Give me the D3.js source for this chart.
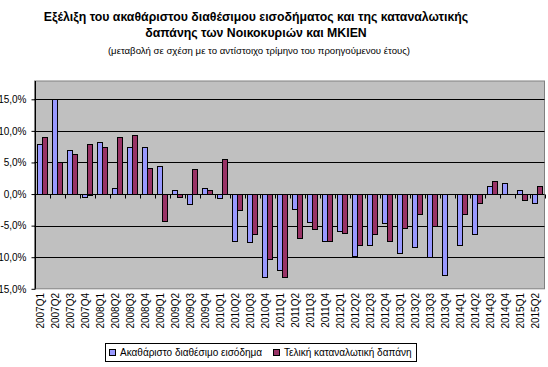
<!DOCTYPE html>
<html>
<head>
<meta charset="utf-8">
<script src="https://cdn.jsdelivr.net/npm/d3@7"></script>
<style>
  body { margin: 0; background: #fff; }
  svg { display: block; font-family: Arial, "Liberation Sans", sans-serif; }
</style>
</head>
<body>
<div id="chart"></div>
<script>
// Quarters on the x axis
const quarters = ["2007Q1","2007Q2","2007Q3","2007Q4","2008Q1","2008Q2","2008Q3","2008Q4",
                  "2009Q1","2009Q2","2009Q3","2009Q4","2010Q1","2010Q2","2010Q3","2010Q4",
                  "2011Q1","2011Q2","2011Q3","2011Q4","2012Q1","2012Q2","2012Q3","2012Q4",
                  "2013Q1","2013Q2","2013Q3","2013Q4","2014Q1","2014Q2","2014Q3","2014Q4",
                  "2015Q1","2015Q2"];

// Gross disposable income (% change y/y)
const income = [7.9, 15.1, 7.0, -0.5, 8.2, 0.9, 7.5, 7.5,
                4.4, 0.6, -1.6, 0.9, -0.7, -7.4, -7.6, -13.2,
                -12.1, -2.4, -4.4, -7.5, -5.9, -9.8, -8.0, -4.6,
                -9.4, -8.4, -10.0, -12.9, -8.0, -6.3, 1.3, 1.8,
                0.7, -1.5];

// Final consumption expenditure (% change y/y)
const consumption = [9.0, 5.0, 6.4, 8.0, 7.5, 9.0, 9.4, 4.1,
                     -4.2, -0.5, 3.9, 0.7, 5.6, -2.6, -6.3, -10.3,
                     -13.2, -6.9, -5.6, -7.5, -6.1, -8.1, -6.3, -7.5,
                     -5.4, -3.1, -5.1, 0.0, -3.2, -1.5, 2.0, 0.0,
                     -1.0, 1.3];

const seriesNames = ["Ακαθάριστο διαθέσιμο εισόδημα", "Τελική καταναλωτική δαπάνη"];
const yTicks = [-15, -10, -5, 0, 5, 10, 15];

const svgWidth = 548;
const svgHeight = 367;

// plot area
const plot = { left: 34.5, right: 544.5, top: 81, bottom: 288.8 };
const colors = ["#9999FF", "#993366"];

const svg = d3.select("#chart")
              .append("svg")
              .attr("width", svgWidth)
              .attr("height", svgHeight);

// Titles
svg.append("text")
   .attr("x", 256).attr("y", 21)
   .attr("text-anchor", "middle")
   .style("font-size", "12.3px").style("font-weight", "bold")
   .text("Εξέλιξη του ακαθάριστου διαθέσιμου εισοδήματος και της καταναλωτικής");
svg.append("text")
   .attr("x", 256).attr("y", 37)
   .attr("text-anchor", "middle")
   .style("font-size", "12.3px").style("font-weight", "bold")
   .text("δαπάνης των Νοικοκυριών και ΜΚΙΕΝ");
svg.append("text")
   .attr("x", 259).attr("y", 54)
   .attr("text-anchor", "middle")
   .style("font-size", "9.6px")
   .text("(μεταβολή σε σχέση με το αντίστοιχο τρίμηνο του προηγούμενου έτους)");

// Scales
const x = d3.scaleBand()
            .domain(quarters)
            .range([plot.left, plot.right])
            .paddingInner(1 / 3)
            .paddingOuter(1 / 6);

const xSub = d3.scaleBand()
               .domain([0, 1])
               .range([0, x.bandwidth()]);

const y = d3.scaleLinear()
            .domain([-15, 15])
            .range([plot.bottom, 99.3]);

// Plot background
svg.append("rect")
   .attr("x", plot.left).attr("y", plot.top)
   .attr("width", plot.right - plot.left)
   .attr("height", plot.bottom - plot.top)
   .attr("fill", "#C0C0C0")
   .attr("stroke", "#808080")
   .attr("stroke-width", 1);

// Gridlines
svg.append("g")
   .selectAll("line")
   .data(yTicks.filter(d => d !== -15 && d !== 0))
   .enter()
   .append("line")
   .attr("x1", plot.left).attr("x2", plot.right)
   .attr("y1", d => Math.round(y(d)) + 0.5)
   .attr("y2", d => Math.round(y(d)) + 0.5)
   .attr("stroke", "#000");

// Bars
const data = quarters.map((q, i) => ({ q: q, values: [income[i], consumption[i]] }));

svg.append("g")
   .selectAll("g")
   .data(data)
   .enter()
   .append("g")
   .attr("transform", d => `translate(${x(d.q)},0)`)
   .selectAll("rect")
   .data(d => d.values.map((v, k) => ({ k: k, v: v })))
   .enter()
   .filter(d => d.v !== 0)
   .append("rect")
   .attr("x", d => Math.round(xSub(d.k)) + 0.5)
   .attr("y", d => Math.round(y(Math.max(0, d.v))) + 0.5)
   .attr("width", Math.round(xSub.bandwidth()))
   .attr("height", d => Math.max(1, Math.round(Math.abs(y(d.v) - y(0)))))
   .attr("fill", d => colors[d.k])
   .attr("stroke", "#000")
   .attr("stroke-width", 1);

// Zero line with category ticks
const y0 = Math.round(y(0)) + 0.5;
svg.append("line")
   .attr("x1", plot.left).attr("x2", plot.right)
   .attr("y1", y0).attr("y2", y0)
   .attr("stroke", "#000");

svg.append("g")
   .selectAll("line")
   .data(quarters.concat(["end"]))
   .enter()
   .append("line")
   .attr("x1", (d, i) => Math.round(plot.left + i * x.step()) + 0.5)
   .attr("x2", (d, i) => Math.round(plot.left + i * x.step()) + 0.5)
   .attr("y1", y0).attr("y2", y0 + 4)
   .attr("stroke", "#000");

// Y axis
const yAxis = svg.append("g")
                 .attr("transform", `translate(${Math.round(plot.left) + 0.5},0)`)
                 .call(d3.axisLeft(y)
                         .tickValues(yTicks)
                         .tickSizeInner(4)
                         .tickSizeOuter(0)
                         .tickPadding(5)
                         .tickFormat(d => (d < 0 ? "-" : "") + Math.abs(d).toFixed(1).replace(".", ",") + "%"));
yAxis.select(".domain").remove();
yAxis.selectAll("text")
     .style("font-size", "10px")
     .style("font-family", "Arial, 'Liberation Sans', sans-serif")
     .attr("fill", "#000");
yAxis.selectAll("line").attr("stroke", "#000");
svg.append("line")
   .attr("x1", Math.round(plot.left) + 0.5).attr("x2", Math.round(plot.left) + 0.5)
   .attr("y1", plot.top).attr("y2", plot.bottom)
   .attr("stroke", "#000");

// Category labels
svg.append("g")
   .selectAll("text")
   .data(quarters)
   .enter()
   .append("text")
   .attr("transform", d => `translate(${x(d) + x.bandwidth() / 2 - 1.5},293) rotate(-90)`)
   .attr("text-anchor", "end")
   .attr("dy", "0.35em")
   .style("font-size", "10px")
   .text(d => d);

// Legend
const legend = svg.append("g").attr("transform", "translate(105,343)");
legend.append("rect")
      .attr("x", 0.5).attr("y", 0.5)
      .attr("width", 311).attr("height", 18)
      .attr("fill", "#fff")
      .attr("stroke", "#000");

const legendX = [4, 168];
const items = legend.selectAll("g.item")
                    .data(seriesNames)
                    .enter()
                    .append("g")
                    .attr("class", "item")
                    .attr("transform", (d, i) => `translate(${legendX[i]},0)`);
items.append("rect")
     .attr("x", 0.5).attr("y", 6.5)
     .attr("width", 6).attr("height", 6)
     .attr("fill", (d, i) => colors[i])
     .attr("stroke", "#000");
items.append("text")
     .attr("x", 11).attr("y", 13)
     .style("font-size", "10px")
     .text(d => d);
</script>
</body>
</html>
